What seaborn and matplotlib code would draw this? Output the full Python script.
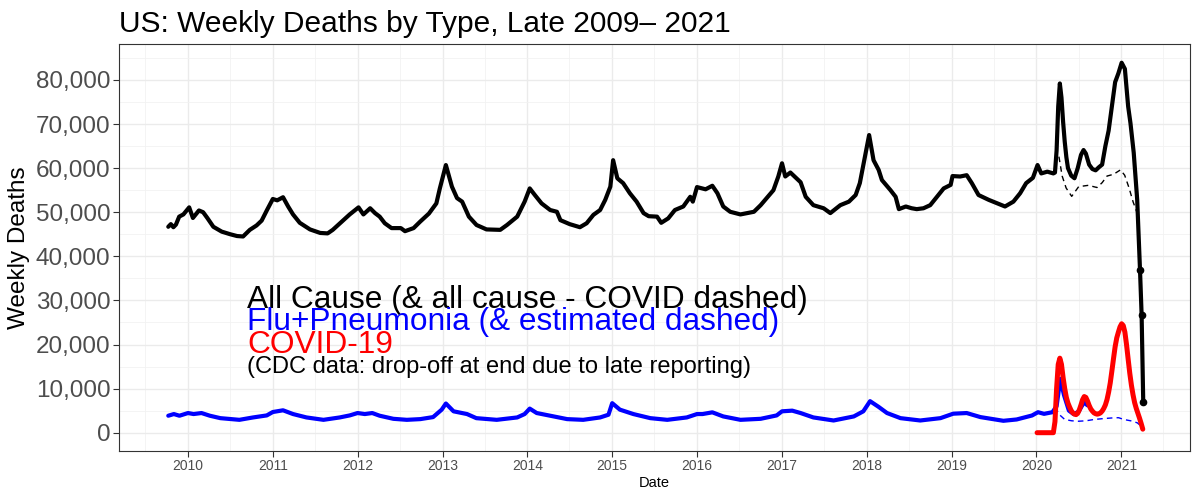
import pandas as pd
import matplotlib
matplotlib.use("Agg")
import matplotlib.pyplot as plt
import matplotlib.dates as mdates
from matplotlib.ticker import FuncFormatter, MultipleLocator
import seaborn as sns

# all cause weekly deaths
all_dates = [
    "2009-10-08", "2009-10-19", "2009-10-30", "2009-11-10", "2009-11-24", "2009-12-12",
    "2010-01-06", "2010-01-22", "2010-02-17", "2010-03-07", "2010-03-25", "2010-04-20",
    "2010-05-26", "2010-07-02", "2010-07-31", "2010-08-26", "2010-09-24", "2010-10-23",
    "2010-11-14", "2010-12-06",
    "2011-01-01", "2011-01-20", "2011-02-14", "2011-03-08", "2011-03-29", "2011-04-27",
    "2011-06-10", "2011-07-24", "2011-08-25", "2011-09-16", "2011-10-30", "2011-11-28",
    "2012-01-05", "2012-01-26", "2012-02-24", "2012-03-16", "2012-04-05", "2012-04-27",
    "2012-05-26", "2012-07-05", "2012-07-23", "2012-08-29", "2012-09-27", "2012-11-03",
    "2012-12-05", "2012-12-20",
    "2013-01-15", "2013-02-10", "2013-03-04", "2013-03-26", "2013-04-24", "2013-05-27",
    "2013-07-09", "2013-09-06", "2013-10-05", "2013-11-18", "2013-12-20",
    "2014-01-11", "2014-02-02", "2014-03-03", "2014-04-09", "2014-05-08", "2014-05-23",
    "2014-07-02", "2014-08-15", "2014-09-13", "2014-10-12", "2014-11-10", "2014-12-02",
    "2014-12-24",
    "2015-01-05", "2015-01-23", "2015-02-17", "2015-03-18", "2015-04-16", "2015-05-16",
    "2015-06-07", "2015-07-13", "2015-07-31", "2015-08-30", "2015-09-28", "2015-11-03",
    "2015-12-03", "2015-12-14",
    "2016-01-01", "2016-02-07", "2016-03-07", "2016-03-29", "2016-04-23", "2016-05-23",
    "2016-07-06", "2016-09-02", "2016-10-01", "2016-10-27", "2016-11-25", "2016-12-16",
    "2017-01-01", "2017-01-15", "2017-02-06", "2017-03-22", "2017-04-13", "2017-05-16",
    "2017-06-29", "2017-07-28", "2017-09-09", "2017-10-16", "2017-11-14", "2017-12-02",
    "2017-12-24",
    "2018-01-11", "2018-01-30", "2018-02-21", "2018-03-07", "2018-04-13", "2018-05-05",
    "2018-05-19", "2018-06-18", "2018-07-13", "2018-08-04", "2018-09-02", "2018-10-01",
    "2018-10-30", "2018-11-28", "2018-12-28",
    "2019-01-05", "2019-02-07", "2019-03-07", "2019-03-29", "2019-04-27", "2019-06-10",
    "2019-07-17", "2019-08-19", "2019-09-24", "2019-10-23", "2019-11-18", "2019-12-17",
    "2020-01-06", "2020-01-22", "2020-02-17", "2020-03-14", "2020-03-21", "2020-03-28",
    "2020-04-04", "2020-04-11", "2020-04-18", "2020-04-25", "2020-05-02", "2020-05-09",
    "2020-05-16", "2020-05-30", "2020-06-13", "2020-06-27", "2020-07-11", "2020-07-22",
    "2020-08-01", "2020-08-15", "2020-08-29", "2020-09-12", "2020-09-26", "2020-10-10",
    "2020-10-24", "2020-11-07", "2020-11-21", "2020-12-05", "2020-12-19",
    "2021-01-02", "2021-01-16", "2021-01-30", "2021-02-09", "2021-02-23", "2021-03-10",
    "2021-03-22", "2021-03-29", "2021-04-05",
]
all_deaths = [
    46700, 47300, 46600, 47200, 49000, 49500,
    51100, 48700, 50400, 50000, 48700, 46700,
    45600, 45000, 44600, 44500, 46000, 47000,
    48100, 50400,
    53000, 52700, 53400, 51300, 49500, 47600,
    46100, 45300, 45200, 46000, 48100, 49500,
    51100, 49500, 50900, 49800, 49000, 47500,
    46400, 46400, 45700, 46400, 47900, 49700,
    52000, 55400,
    60700, 55800, 53200, 52400, 49000, 47100,
    46100, 46000, 47100, 49000, 52400,
    55400, 53900, 52000, 50500, 50100, 48200,
    47300, 46600, 47500, 49400, 50500, 52800,
    55800,
    61800, 57700, 56600, 54300, 52400, 49800,
    49100, 49000, 47600, 48600, 50500, 51300,
    53500, 52400,
    55700, 55200, 56000, 54300, 51300, 50100,
    49500, 50100, 51600, 53200, 55000, 58100,
    61100, 58100, 59000, 56800, 53500, 51600,
    50900, 49800, 51600, 52400, 53900, 56600,
    62600,
    67500, 61800, 59600, 57300, 55000, 53500,
    50700, 51300, 50900, 50700, 50900, 51600,
    53500, 55400, 56200,
    58200, 58100, 58400, 56600, 53900, 52800,
    52000, 51300, 52400, 54300, 56600, 57800,
    60700, 58800, 59200, 58800, 59000, 64000,
    74000, 79200, 76000, 70500, 66000, 62500,
    60000, 58300, 57700, 60000, 63000, 64100,
    63300, 60800, 59800, 59500, 60200, 60800,
    65000, 68500, 74000, 79500, 81500,
    83900, 82500, 74000, 70200, 63500, 52800,
    37000, 26700, 7000,
]

# all cause minus COVID (dashed)
noncovid_dates = [
    "2020-04-07", "2020-04-21", "2020-05-08", "2020-06-01", "2020-07-01", "2020-08-12",
    "2020-09-18", "2020-10-10", "2020-10-31", "2020-11-28", "2020-12-28", "2021-01-15",
    "2021-02-03", "2021-02-20", "2021-03-10",
]
noncovid_deaths = [
    62600, 58200, 55500, 53600, 55800, 56100,
    55600, 56700, 58200, 58600, 59600, 58400,
    55500, 52400, 49800,
]

# flu + pneumonia
flu_dates = [
    "2009-10-08", "2009-11-01", "2009-11-25", "2010-01-01", "2010-01-25", "2010-02-28",
    "2010-04-05", "2010-05-20", "2010-08-10", "2010-10-08", "2010-12-06",
    "2011-01-01", "2011-02-14", "2011-03-29", "2011-05-26", "2011-08-07", "2011-10-16",
    "2011-11-28",
    "2012-01-01", "2012-02-01", "2012-03-04", "2012-04-05", "2012-06-03", "2012-07-31",
    "2012-09-27", "2012-11-21", "2012-12-28",
    "2013-01-15", "2013-02-17", "2013-04-16", "2013-05-26", "2013-08-22", "2013-11-18",
    "2013-12-20",
    "2014-01-11", "2014-02-10", "2014-04-09", "2014-06-21", "2014-08-29", "2014-11-10",
    "2014-12-16",
    "2015-01-01", "2015-02-03", "2015-04-02", "2015-06-14", "2015-08-26", "2015-11-18",
    "2016-01-01", "2016-01-25", "2016-03-07", "2016-04-23", "2016-07-06", "2016-10-01",
    "2016-12-09",
    "2017-01-01", "2017-02-14", "2017-03-22", "2017-05-16", "2017-08-11", "2017-11-06",
    "2017-12-17",
    "2018-01-15", "2018-02-21", "2018-03-29", "2018-05-26", "2018-08-19", "2018-11-14",
    "2019-01-08", "2019-03-07", "2019-05-05", "2019-07-17", "2019-08-12", "2019-10-08",
    "2019-12-13",
    "2020-01-08", "2020-02-03", "2020-03-10", "2020-03-28", "2020-04-13", "2020-04-29",
    "2020-05-20", "2020-06-10", "2020-07-01", "2020-07-24", "2020-08-08",
]
flu_deaths = [
    3850, 4230, 3850, 4460, 4230, 4460,
    3850, 3300, 2920, 3460, 3920,
    4690, 5080, 4230, 3460, 2920, 3460,
    3920,
    4460, 4230, 4460, 3850, 3150, 2920,
    3080, 3540, 5230,
    6620, 4850, 4230, 3300, 2920, 3460,
    4230,
    5460, 4460, 3850, 3080, 2920, 3460,
    4080,
    6700, 5230, 4230, 3300, 2920, 3460,
    4230, 4230, 4620, 3690, 2920, 3150,
    3920,
    4850, 5000, 4460, 3460, 2770, 3690,
    4850,
    7150, 5850, 4460, 3300, 2770, 3300,
    4310, 4460, 3540, 2920, 2700, 3000,
    3900,
    4650, 4275, 4650, 6000, 12200, 8500,
    5000, 4200, 4800, 6900, 6200,
]

# flu + pneumonia, estimated (dashed)
flu_est_dates = [
    "2020-03-21", "2020-03-28", "2020-04-11", "2020-05-02", "2020-06-01", "2020-07-01",
    "2020-08-01", "2020-09-06", "2020-10-15", "2020-11-29", "2020-12-20", "2021-01-11",
    "2021-02-10", "2021-03-10", "2021-03-27", "2021-04-05",
]
flu_est_deaths = [
    4700, 5250, 4000, 3000, 2700, 2600,
    2700, 3000, 3200, 3375, 3400, 3000,
    2700, 2250, 1500, 750,
]

# COVID-19 weekly deaths
covid_dates = [
    "2020-01-04", "2020-03-14", "2020-03-21", "2020-03-28", "2020-04-04", "2020-04-11",
    "2020-04-18", "2020-04-25", "2020-05-02", "2020-05-09", "2020-05-16", "2020-05-23",
    "2020-05-30", "2020-06-06", "2020-06-13", "2020-06-20", "2020-06-27", "2020-07-04",
    "2020-07-11", "2020-07-18", "2020-07-25", "2020-08-01", "2020-08-08", "2020-08-15",
    "2020-08-22", "2020-08-29", "2020-09-05", "2020-09-12", "2020-09-19", "2020-09-26",
    "2020-10-03", "2020-10-10", "2020-10-17", "2020-10-24", "2020-10-31", "2020-11-07",
    "2020-11-14", "2020-11-21", "2020-11-28", "2020-12-05", "2020-12-12", "2020-12-19",
    "2020-12-26", "2021-01-02", "2021-01-09", "2021-01-16", "2021-01-23", "2021-01-30",
    "2021-02-06", "2021-02-13", "2021-02-20", "2021-02-27", "2021-03-06", "2021-03-13",
    "2021-03-20", "2021-03-27", "2021-04-03",
]
covid_deaths = [
    0, 0, 2500, 10000, 15500, 16900,
    15500, 12500, 10000, 8000, 6700, 5800,
    5000, 4500, 4200, 4100, 4400, 5200,
    6300, 7500, 8200, 8000, 7200, 6200,
    5400, 4900, 4500, 4300, 4200, 4300,
    4500, 4900, 5500, 6300, 7500, 9200,
    11300, 14000, 16800, 19500, 21500, 22800,
    24000, 24700, 24300, 22800, 20000, 16700,
    13500, 10800, 8600, 6800, 5500, 4400,
    3300, 2100, 800,
]

labels = ["All Cause (& all cause - COVID dashed)",
          "Flu+Pneumonia (& estimated dashed)",
          "COVID-19",
          "(CDC data: drop-off at end due to late reporting)"]
label_y = [30000, 25000, 20000, 15000]


def frame(dates, deaths):
    return pd.DataFrame({"date": pd.to_datetime(dates), "deaths": deaths})


def main():
    sns.set_theme(style="white")
    plt.rcParams['font.family'] = ['Liberation Sans', 'DejaVu Sans']

    fig, ax = plt.subplots(figsize=(12, 5), dpi=100)
    fig.subplots_adjust(left=0.099, right=0.992, top=0.912, bottom=0.098)

    all_df = frame(all_dates, all_deaths)
    sns.lineplot(data=all_df, x="date", y="deaths", color="black", linewidth=3.0, ax=ax)
    ax.plot(all_df["date"].tail(3), all_df["deaths"].tail(3), "o", color="black", ms=4.5)
    sns.lineplot(data=frame(noncovid_dates, noncovid_deaths), x="date", y="deaths",
                 color="black", linewidth=1.0, ax=ax).lines[-1].set_dashes((4, 3))
    sns.lineplot(data=frame(flu_dates, flu_deaths), x="date", y="deaths",
                 color="blue", linewidth=3.0, ax=ax)
    sns.lineplot(data=frame(flu_est_dates, flu_est_deaths), x="date", y="deaths",
                 color="blue", linewidth=1.0, ax=ax).lines[-1].set_dashes((4, 3))
    sns.lineplot(data=frame(covid_dates, covid_deaths), x="date", y="deaths",
                 color="red", linewidth=3.6, ax=ax)

    # legend-like annotation block (overlapping, as in the source)
    x_lab = pd.Timestamp("2010-09-12")
    colors = ["black", "blue", "red", "black"]
    sizes = [22.8, 22.8, 22.8, 17]
    for txt, yv, c, s in zip(labels, label_y, colors, sizes):
        ax.text(x_lab, yv, txt, color=c, fontsize=s, va="center", ha="left")

    ax.set_xlim(pd.Timestamp("2009-03-09"), pd.Timestamp("2021-10-25"))
    ax.set_ylim(-4150, 88150)

    ax.xaxis.set_major_locator(mdates.YearLocator())
    ax.xaxis.set_minor_locator(mdates.MonthLocator(bymonth=7))
    ax.xaxis.set_major_formatter(mdates.DateFormatter("%Y"))
    ax.yaxis.set_major_locator(MultipleLocator(10000))
    ax.yaxis.set_minor_locator(MultipleLocator(5000))
    ax.yaxis.set_major_formatter(FuncFormatter(lambda v, p: f"{v:,.0f}"))

    # theme_bw look
    ax.grid(which="major", color="#EBEBEB", linewidth=1.0)
    ax.grid(which="minor", color="#F2F2F2", linewidth=0.6)
    ax.set_axisbelow(True)
    for sp in ax.spines.values():
        sp.set_color("#333333")
        sp.set_linewidth(0.8)
    ax.tick_params(axis="both", which="major", length=4, width=0.8, color="#333333",
                   labelcolor="#4D4D4D", bottom=True, left=True, pad=2)
    ax.tick_params(axis="both", which="minor", length=0)
    ax.tick_params(axis="y", labelsize=17.5)
    ax.tick_params(axis="x", labelsize=10)

    ax.set_xlabel("Date", fontsize=10.5, color="black", labelpad=2)
    ax.set_ylabel("Weekly Deaths", fontsize=17.5, color="black", labelpad=4)
    ax.set_title("US: Weekly Deaths by Type, Late 2009\u2013 2021", loc="left",
                 fontsize=21.5, pad=9, color="black")

    fig.savefig("out.png", dpi=100)


if __name__ == "__main__":
    main()
